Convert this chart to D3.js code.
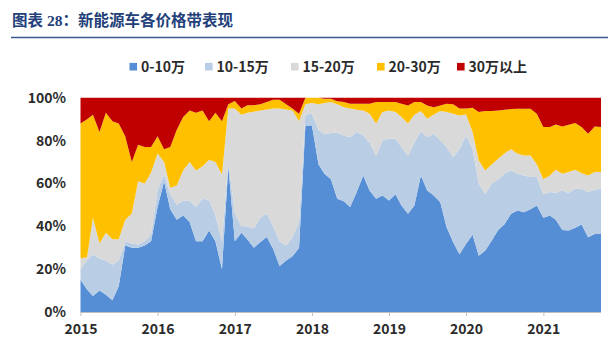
<!DOCTYPE html>
<html>
<head>
<meta charset="utf-8">
<script src="https://cdn.jsdelivr.net/npm/d3@7"></script>
<style>
  body { margin: 0; background: #fff; }
  svg { display: block; }
</style>
</head>
<body>
<svg id="chart" width="608" height="348"></svg>
<script>
// Monthly share of NEV sales by price band, Jan 2015 – Oct 2021 (percent of month total)
const firstMonth = new Date(2015, 0, 1);
const lastMonth = new Date(2021, 9, 1);
const yearLabels = ["2015", "2016", "2017", "2018", "2019", "2020", "2021"];
const yTickValues = [0, 0.2, 0.4, 0.6, 0.8, 1.0];
const bandNames = ["0-10万", "10-15万", "15-20万", "20-30万", "30万以上"];
const bandColors = ["#558ED5", "#B9CDE5", "#D9D9D9", "#FFC000", "#C00000"];

const band0to10 = [
  15, 10.5, 7.5, 10, 8, 5.5, 12, 31, 30, 30, 31, 33,
  49, 61, 48, 43, 45, 42, 33, 33, 38, 33, 20, 68,
  33, 37, 34, 30, 32.5, 35, 29.5, 21.5, 24, 26, 30, 87,
  87, 69, 64.5, 62, 52.8, 51.7, 49, 56, 63.7, 56.7, 52.8, 54.4,
  52, 55, 49.7, 45.8, 49.7, 63.7, 56.7, 54.4, 51.2, 39.6, 32.6, 27,
  31.8, 36, 26.3, 28.7, 33.3, 38.3, 41, 45.8, 47.4, 46.6, 48, 49.7,
  44, 45, 43, 38.3, 38, 39.3, 40.8, 34.9, 36.4, 36.4
];
const band10to15 = [
  5, 13.5, 19.5, 15, 16, 16.5, 12, 2, 2, 1.5, 2, 3,
  8, 3, 7, 7, 7, 10, 16, 20, 14, 12, 13, 2,
  13, 3, 6, 9, 11.5, 11, 10.5, 11.5, 7, 9, 12, 5,
  5.5, 16, 18.5, 21.5, 31, 30.7, 32.6, 28, 18.7, 22.3, 20.2, 25.6,
  28.8, 25.8, 27.3, 27.2, 29.3, 20.7, 24.9, 28.8, 28.8, 37.4, 39.7, 49,
  50.6, 40, 33.7, 26.3, 26.5, 23.7, 23.5, 20.2, 17.1, 17.1, 15, 13.3,
  11, 11, 12.5, 18.4, 17.5, 18.2, 16.7, 21.1, 20.6, 21.1
];
const band15to20 = [
  5, 1.5, 17, 7, 13, 12, 10, 10, 14, 29.5, 27, 29,
  17, 6, 3, 9, 14, 18, 17, 15, 19, 25, 31, 25,
  49, 52, 53, 54.5, 50, 48.5, 55, 62, 63.5, 59, 47, 5,
  5, 12, 14.5, 14.5, 13.2, 13.2, 13.4, 10.4, 11.6, 13.5, 15, 13.3,
  13.2, 12.5, 14, 15, 13, 9.4, 8.6, 9, 13.8, 16.3, 20.2, 15.7,
  9.8, 8, 10.7, 11, 9, 9.5, 9.5, 10, 9.3, 9.3, 10, 6,
  7, 7.7, 10.9, 7.8, 9.8, 8.9, 7.3, 7.7, 8.3, 7.8
];
const band20to30 = [
  63, 64.5, 48, 52, 56, 55, 54, 39, 24, 17, 17, 12,
  8, 6, 19, 26, 25, 24, 27, 26, 18, 23, 25, 2,
  3.5, 3, 3.5, 3, 3, 3.5, 4, 4, 2.5, 1, 3.5, 3,
  2.5, 3, 2, 1.5, 1.4, 2.4, 2.2, 2.8, 3.2, 4.7, 10, 4.7,
  4, 4.7, 6.2, 8.4, 6, 4.2, 6.2, 3.4, 2.6, 3.9, 4.4, 3.3,
  2.8, 11.3, 22.6, 27.8, 25, 22.5, 20.4, 18.7, 21.1, 21.9, 21.9, 23.5,
  24.3, 22.6, 21.1, 22.1, 22.1, 21.8, 21.5, 19.5, 21.3, 21
];
const band30plus = [
  12, 10, 8, 16, 7, 11, 12, 18, 30, 22, 23, 23,
  18, 24, 23, 15, 9, 6, 7, 6, 11, 7, 11, 3,
  1.5, 5, 3.5, 3.5, 3, 2, 1, 1, 3, 5, 7.5, 0,
  0, 0, 0.5, 0.5, 1.6, 2, 2.8, 2.8, 2.8, 2.8, 2, 2,
  2, 2, 2.8, 3.6, 2, 2, 3.6, 4.4, 3.6, 2.8, 3.1, 5,
  5, 4.7, 6.7, 6.2, 6.2, 6, 5.6, 5.3, 5.1, 5.1, 5.1, 7.5,
  13.7, 13.7, 12.5, 13.4, 12.6, 11.8, 13.7, 16.8, 13.4, 13.7
];

const bandValues = [band0to10, band10to15, band15to20, band20to30, band30plus];
const months = d3.timeMonth.range(firstMonth, d3.timeMonth.offset(lastMonth, 1));

// One row per month, one column per price band
const rows = months.map((m, i) => {
  const r = { month: m };
  bandNames.forEach((name, k) => { r[name] = bandValues[k][i]; });
  return r;
});

const svg = d3.select("#chart");
const plotLeft = 80.5, plotRight = 601, plotTop = 97.7, plotBottom = 312;
const labelFont = "'Noto Sans CJK SC', 'Noto Sans', sans-serif";

const x = d3.scaleTime().domain([firstMonth, lastMonth]).range([plotLeft, plotRight]);
const y = d3.scaleLinear().domain([0, 1]).range([plotBottom, plotTop]);

// Title and rule
svg.append("text")
  .attr("x", 12).attr("y", 26)
  .attr("font-family", "'Liberation Serif', 'Noto Sans CJK SC', serif")
  .attr("font-weight", "bold").attr("font-size", 15.5)
  .attr("fill", "#23407A")
  .attr("xml:space", "preserve")
  .text("图表 28：新能源车各价格带表现");
svg.append("line")
  .attr("x1", 11).attr("x2", 608).attr("y1", 37.5).attr("y2", 37.5)
  .attr("stroke", "#3B5A8E").attr("stroke-width", 1.6);

// Stacked 100% areas
const stack = d3.stack().keys(bandNames).offset(d3.stackOffsetExpand);
const layers = stack(rows);
const area = d3.area()
  .x(d => x(d.data.month))
  .y0(d => y(d[0]))
  .y1(d => y(d[1]));

svg.append("g").selectAll("path")
  .data(layers)
  .join("path")
  .attr("d", area)
  .attr("fill", (d, i) => bandColors[i]);

// X axis with a tick at each January
const xAxis = d3.axisBottom(x)
  .tickValues(yearLabels.map(yr => new Date(+yr, 0, 1)))
  .tickFormat(d3.timeFormat("%Y"))
  .tickSize(4).tickPadding(8);
const gx = svg.append("g").attr("transform", `translate(0,${plotBottom})`).call(xAxis);
gx.select(".domain").attr("stroke", "#BFBFBF").attr("d", `M${plotLeft},0.5H${plotRight}`);
gx.selectAll(".tick line").attr("stroke", "#BFBFBF");
gx.selectAll(".tick text")
  .attr("font-family", labelFont).attr("font-weight", "bold")
  .attr("font-size", 14).attr("fill", "#2B2B2B");

// Y axis labels only
const yAxis = d3.axisLeft(y).tickValues(yTickValues).tickFormat(d3.format(".0%")).tickSize(0).tickPadding(0);
const gy = svg.append("g").attr("transform", "translate(66,0)").call(yAxis);
gy.select(".domain").remove();
gy.selectAll(".tick text")
  .attr("font-family", labelFont).attr("font-weight", "bold")
  .attr("font-size", 14).attr("fill", "#2B2B2B");

// Legend
const legendX = [129.5, 205, 291, 377, 457];
const legend = svg.append("g").selectAll("g")
  .data(bandNames)
  .join("g")
  .attr("transform", (d, i) => `translate(${legendX[i]},66.7)`);
legend.append("rect")
  .attr("x", 0).attr("y", -3.8).attr("width", 7.6).attr("height", 7.6)
  .attr("fill", (d, i) => bandColors[i]);
legend.append("text")
  .attr("x", 11.5).attr("dy", "0.35em")
  .attr("font-family", labelFont).attr("font-weight", "bold")
  .attr("font-size", 14).attr("fill", "#2B2B2B")
  .text(d => d);
</script>
</body>
</html>
